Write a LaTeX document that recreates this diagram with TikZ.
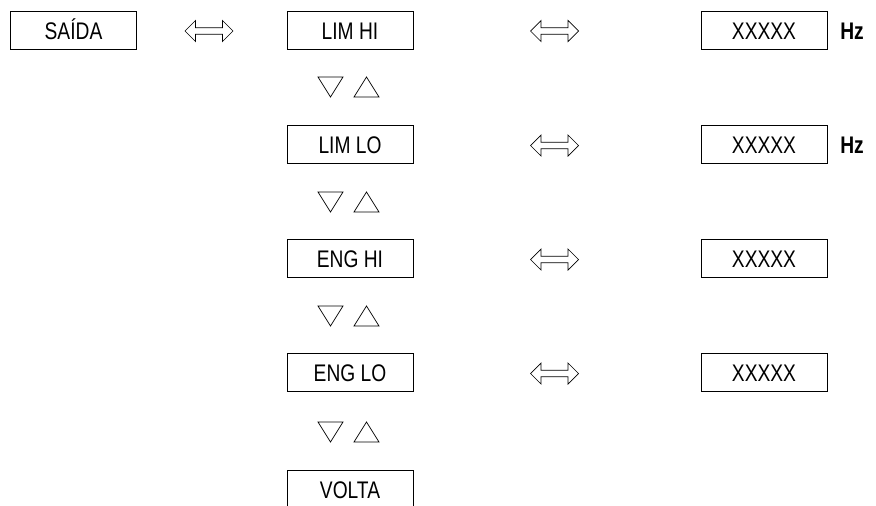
\documentclass[tikz,border=0pt]{standalone}
\usepackage{fontspec}
\setmainfont{Liberation Sans}[FakeStretch=0.8]
\begin{document}
\begin{tikzpicture}[x=1pt,y=-1pt,
  menubox/.style={draw=black,line width=1pt,minimum width=126pt,minimum height=38.5pt,
    inner sep=0pt,text height=17pt,text depth=0pt,
    font=\fontsize{24}{28}\selectfont},
  unitlabel/.style={inner sep=0pt,text height=17pt,text depth=0pt,
    font=\fontsize{24}{28}\selectfont\bfseries},
  dblarrow/.pic={\draw[line width=0.7pt,line join=miter]
      (-24,0) -- (-13.5,-10.5) -- (-13.5,-3.3) -- (13.5,-3.3) -- (13.5,-10.5) -- (24,0)
      -- (13.5,10.5) -- (13.5,3.3) -- (-13.5,3.3) -- (-13.5,10.5) -- cycle;},
  tridown/.pic={\draw[line width=0.7pt] (-12.5,-10) -- (12.5,-10) -- (0,10) -- cycle;},
  triup/.pic={\draw[line width=0.7pt] (-12.5,10) -- (12.5,10) -- (0,-10) -- cycle;}
]
\clip (0,0) rectangle (876,506);
\fill[white] (0,0) rectangle (876,506);

% left
\node[menubox] (saida) at (73.5,30.5) {SAÍDA};
% middle column
\node[menubox] (limhi) at (350,30.5) {LIM HI};
\node[menubox] (limlo) at (350,144.5) {LIM LO};
\node[menubox] (enghi) at (350,258.5) {ENG HI};
\node[menubox] (englo) at (350,372.5) {ENG LO};
\node[menubox] (volta) at (350,489.5) {VOLTA};
% right column
\node[menubox] (v1) at (764,30.5) {XXXXX};
\node[menubox] (v2) at (764,144.5) {XXXXX};
\node[menubox] (v3) at (764,258.5) {XXXXX};
\node[menubox] (v4) at (764,372.5) {XXXXX};
% units
\node[unitlabel] (hz1) at (852,31) {Hz};
\node[unitlabel] (hz2) at (852,145) {Hz};

% double arrows
\path (209,31) pic {dblarrow};
\path (554.5,31) pic {dblarrow};
\path (554.5,145.5) pic {dblarrow};
\path (554.5,259.5) pic {dblarrow};
\path (554.5,373.5) pic {dblarrow};

% triangles
\foreach \yy in {87,202,316,432}{
  \path (330.5,\yy) pic {tridown};
  \path (366.5,\yy) pic {triup};
}
\end{tikzpicture}
\end{document}
